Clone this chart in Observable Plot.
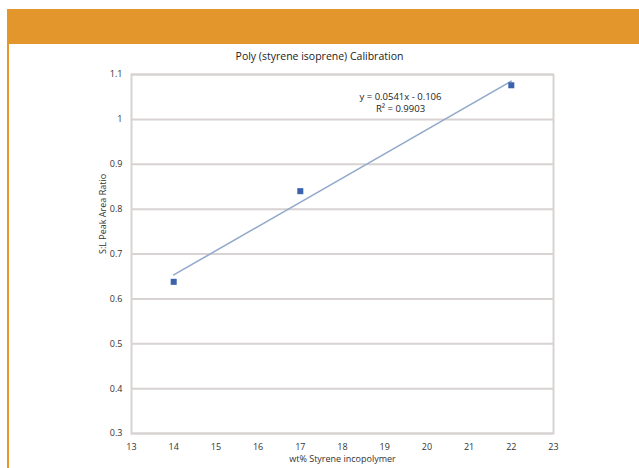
<!DOCTYPE html>
<html><head><meta charset="utf-8">
<script src="https://cdn.jsdelivr.net/npm/d3@7"></script>
<script src="https://cdn.jsdelivr.net/npm/@observablehq/plot@0.6"></script>
<style>
body{margin:0;background:#fff;font-family:"Open Sans",sans-serif;}
#wrap{position:relative;width:639px;height:468px;overflow:hidden;}
#header{position:absolute;left:7px;top:9px;width:632px;height:35px;background:#e2962c;}
#leftline{position:absolute;left:7px;top:44px;width:2px;height:424px;background:#e2962c;}
#title{position:absolute;left:0;width:639px;top:49px;text-align:center;font-size:10.5px;color:#222;}
#chart{position:absolute;left:0;top:0;}
</style></head>
<body><div id="wrap"><div id="header"></div><div id="leftline"></div><div id="chart"></div><div id="title">Poly (styrene isoprene) Calibration</div></div>
<script>
const xValues = [14, 17, 22];
const yValues = [0.638, 0.840, 1.076];
const xTicks = [13, 14, 15, 16, 17, 18, 19, 20, 21, 22, 23];
const yTicks = [0.3, 0.4, 0.5, 0.6, 0.7, 0.8, 0.9, 1, 1.1];
const equationLines = ["y = 0.0541x - 0.106", "R² = 0.9903"];
const titleText = "Poly (styrene isoprene) Calibration";
const xLabel = "wt% Styrene incopolymer";
const yLabel = "S:L Peak Area Ratio";

const data = xValues.map((x, i) => ({x, y: yValues[i]}));

const chart = Plot.plot({
  width: 639, height: 468,
  marginLeft: 131, marginRight: 86, marginTop: 74, marginBottom: 35,
  style: {fontFamily: "Open Sans, sans-serif", fontSize: "9px", color: "#333", background: "transparent"},
  x: {domain: [13, 23], ticks: xTicks, tickSize: 0, tickPadding: 10, label: null, tickFormat: d => String(d)},
  y: {domain: [0.3, 1.1], ticks: yTicks, tickSize: 0, tickPadding: 9, label: null, tickFormat: d => String(d)},
  marks: [
    Plot.gridY(yTicks, {stroke: "#d8d2d2", strokeOpacity: 1, strokeWidth: 2}),
    Plot.frame({stroke: "#d8d2d2", strokeWidth: 2}),
    Plot.axisX({ticks: xTicks, tickSize: 0, tickPadding: 10, label: null, tickFormat: d => String(d)}),
    Plot.axisY({ticks: yTicks, tickSize: 0, tickPadding: 9, label: null, tickFormat: d => String(d)}),
    Plot.linearRegressionY(data, {x: "x", y: "y", ci: 0, stroke: "#93aacb", strokeWidth: 1.6}),
    Plot.dot(data, {x: "x", y: "y", symbol: "square", r: 3.4, fill: "#3a62ad", stroke: "none"}),
    Plot.text([equationLines.join("\n")], {frameAnchor: "top", dx: 58, dy: 16, lineHeight: 1.35, fontSize: 9.5, fill: "#222", text: d => d}),
    Plot.text([xLabel], {frameAnchor: "bottom", dy: 28, dx: 0, fontSize: 9, fill: "#333", text: d => d}),
    Plot.text([yLabel], {frameAnchor: "left", dx: -28, rotate: -90, fontSize: 9, fill: "#333", text: d => d})
  ]
});
document.getElementById("chart").appendChild(chart);
</script></body></html>
